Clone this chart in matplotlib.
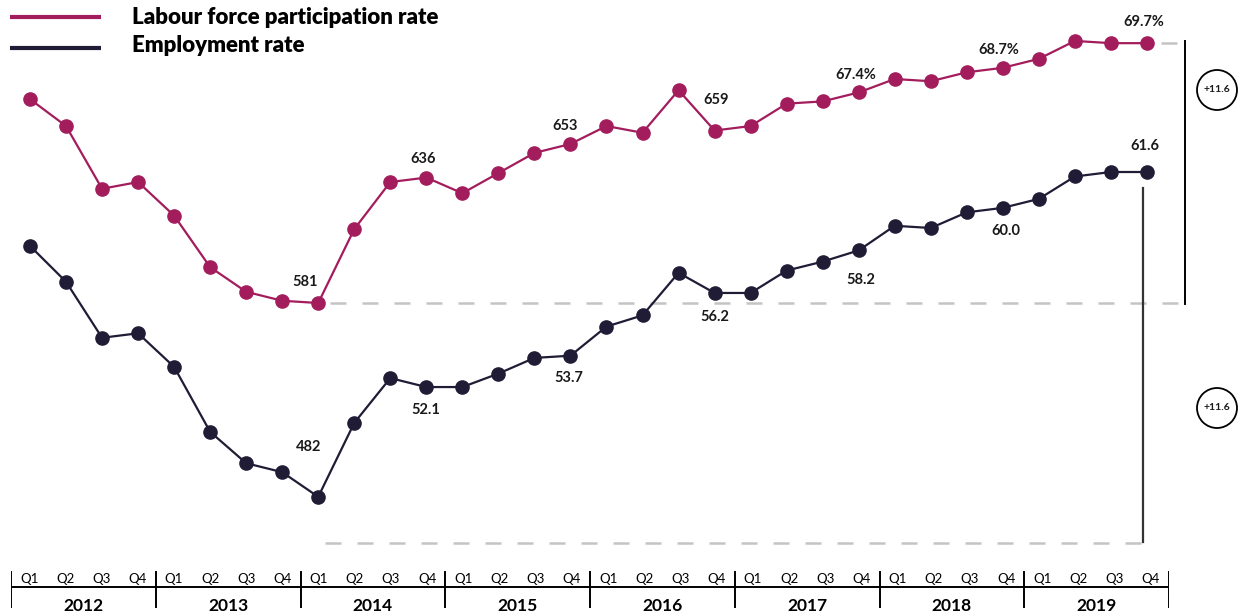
import matplotlib
matplotlib.use("Agg")
import matplotlib.pyplot as plt
from matplotlib.patches import Circle

# ---------------- data ----------------
years = ["2012", "2013", "2014", "2015", "2016", "2017", "2018", "2019"]
quarters = ["Q1", "Q2", "Q3", "Q4"]

participation = [67.2, 66.0, 63.2, 63.5, 62.0, 59.7, 58.6, 58.2,
                 58.1, 61.4, 63.5, 63.7, 63.0, 63.9, 64.8, 65.2,
                 66.0, 65.7, 67.6, 65.8, 66.0, 67.0, 67.1, 67.5,
                 68.1, 68.0, 68.4, 68.6, 69.0, 69.8, 69.7, 69.7]
employment = [58.3, 56.7, 54.2, 54.4, 52.9, 50.0, 48.6, 48.2,
              47.1, 50.4, 52.4, 52.0, 52.0, 52.6, 53.3, 53.4,
              54.7, 55.2, 57.1, 56.2, 56.2, 57.2, 57.6, 58.1,
              59.2, 59.1, 59.8, 60.0, 60.4, 61.4, 61.6, 61.6]

part_labels = [(8, "581"), (11, "636"), (15, "653"), (19, "659"),
               (23, "67.4%"), (27, "68.7%"), (31, "69.7%")]
emp_labels = [(8, "482"), (11, "52.1"), (15, "53.7"), (19, "56.2"),
              (23, "58.2"), (27, "60.0"), (31, "61.6")]
change_text = "+11.6"
series_names = ["Labour force participation rate", "Employment rate"]

# label offsets (pixels)
part_off = [(-13, 21), (-3, 19), (-5, 18), (2, 31), (-3, 17), (-4, 18), (-3, 21)]
emp_off = [(-10, 50), (-1, -23), (-2, -22), (0, -24), (2, -30), (3, -23), (-2, 26)]

# ---------------- style ----------------
MAG = "#A31D5D"
NAVY = "#201C36"
GREY = "#C4C4C4"
FONT = ["Lato", "DejaVu Sans"]
plt.rcParams["font.family"] = FONT

W, H = 1242, 614
fig = plt.figure(figsize=(W / 100, H / 100), dpi=100)

# main data axes (full figure)
ax = fig.add_axes([0, 0, 1, 1])
ax.set_xlim(-0.8326, 33.638)
ax.set_ylim(44.216, 71.627)
ax.axis("off")
ax2 = ax.twinx()
ax2.set_ylim(41.868, 69.279)
ax2.axis("off")

# pixel overlay axes
axp = fig.add_axes([0, 0, 1, 1], facecolor="none")
axp.set_xlim(0, W)
axp.set_ylim(H, 0)
axp.axis("off")

n = len(participation)
xs = list(range(n))
PT = 0.72  # px -> points
DASH = (6.4, 6.4)

# reference dashed lines
ax.plot([8.33, 32.08], [participation[8]] * 2, color=GREY, lw=1.8,
        dashes=DASH, zorder=1)
ax.plot([31.4, 32.08], [participation[-1]] * 2, color=GREY, lw=1.8,
        dashes=DASH, zorder=1)
axp.plot([325, 1143], [543, 543], color=GREY, lw=1.8, dashes=DASH, zorder=1)

# vertical bracket lines
axp.plot([1185, 1185], [41, 304], color="black", lw=1.4)
axp.plot([1143, 1143], [188, 542], color="#333333", lw=1.6)

ax.plot(xs, participation, color=MAG, lw=1.6, marker="o", ms=9.5,
        mec=MAG, mfc=MAG, zorder=3)
ax2.plot(xs, employment, color=NAVY, lw=1.6, marker="o", ms=9.5,
         mec=NAVY, mfc=NAVY, zorder=3)

lab_kw = dict(ha="center", va="center", fontsize=10.5, fontweight="bold",
              color="#1a1a1a", textcoords="offset points")
for (i, t), (dx, dy) in zip(part_labels, part_off):
    ax.annotate(t, (i, participation[i]), xytext=(dx * PT, dy * PT), **lab_kw)
for (i, t), (dx, dy) in zip(emp_labels, emp_off):
    ax2.annotate(t, (i, employment[i]), xytext=(dx * PT, dy * PT), **lab_kw)

# circles with change
for cy in (90, 408):
    axp.add_patch(Circle((1217, cy), 20, fill=False, ec="black", lw=1.3))
    axp.text(1217, cy, change_text, ha="center", va="center", fontsize=7.5,
             fontweight="bold", color="#1a1a1a")

# legend
axp.plot([10, 101], [17, 17], color=MAG, lw=3, solid_capstyle="butt")
axp.plot([10, 101], [48, 48], color=NAVY, lw=3, solid_capstyle="butt")
axp.text(132, 17, series_names[0], ha="left", va="center", fontsize=16,
         fontweight="heavy", color="black")
axp.text(132, 46, series_names[1], ha="left", va="center", fontsize=16,
         fontweight="heavy", color="black")

# bottom category axis
axb = fig.add_axes([11 / W, 0, (1169 - 11) / W, 1], facecolor="none")
axb.set_xlim(0, 32)
axb.set_ylim(H, 0)
axb.axis("off")
axb.plot([0, 32], [587, 587], color="black", lw=1.4)
for k in range(len(years) + 1):
    axb.plot([4 * k, 4 * k], [572, 607], color="black", lw=1.4)
for yi, yr in enumerate(years):
    axb.text(4 * yi + 2, 606, yr, ha="center", va="center", fontsize=12.5,
             fontweight="bold", color="black")
    for qi, q in enumerate(quarters):
        axb.text(4 * yi + qi + 0.5, 579, q, ha="center", va="center",
                 fontsize=9.5, color="black")

fig.savefig("out.png", dpi=100)
